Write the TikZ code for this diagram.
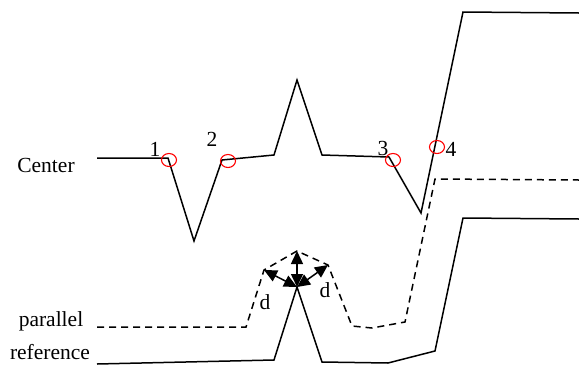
\documentclass[tikz,border=0pt]{standalone}
\usepackage{fontspec}
\setmainfont{Liberation Serif}
\usetikzlibrary{arrows.meta,shapes.geometric}
\begin{document}
\begin{tikzpicture}[x=1pt,y=-1pt,
  solidline/.style={line width=1.5pt,line join=miter},
  dashline/.style={line width=1.5pt,dash pattern=on 7pt off 5pt},
  redmark/.style={draw=red,line width=1.1pt,ellipse,minimum width=15pt,minimum height=13pt,inner sep=0pt},
  lbl/.style={font=\fontsize{21.5}{22}\selectfont,inner sep=0pt},
  dvec/.style={line width=1.5pt,{Triangle[length=13pt,width=12pt]}-{Triangle[length=13pt,width=12pt]}}]
\useasboundingbox (0,0) rectangle (579,365);
% center line
\coordinate (c0) at (97,158);
\coordinate (c1) at (168,158);
\coordinate (c2) at (194,241);
\coordinate (c3) at (222,160);
\coordinate (c4) at (274,155);
\coordinate (c5) at (297,80);
\coordinate (c6) at (322,155);
\coordinate (c7) at (389,157);
\coordinate (c8) at (421,213);
\coordinate (c9) at (463,12);
\coordinate (c10) at (579,13);
\draw[solidline] (c0)--(c1)--(c2)--(c3)--(c4)--(c5)--(c6)--(c7)--(c8)--(c9)--(c10);
% parallel (dashed)
\coordinate (p0) at (97,327);
\coordinate (p1) at (246,327);
\coordinate (p2) at (264,270);
\coordinate (p3) at (297,251);
\coordinate (p4) at (328,265);
\coordinate (p5) at (352,326);
\coordinate (p6) at (372,328);
\coordinate (p7) at (405,322);
\coordinate (p8) at (435,179);
\coordinate (p9) at (579,180);
\draw[dashline] (p0)--(p1)--(p2)--(p3)--(p4)--(p5)--(p6)--(p7)--(p8)--(p9);
% reference
\coordinate (r0) at (97,364);
\coordinate (r1) at (274,360);
\coordinate (r2) at (297,287);
\coordinate (r3) at (322,362);
\coordinate (r4) at (388,363);
\coordinate (r5) at (435,351);
\coordinate (r6) at (463,218);
\coordinate (r7) at (579,219);
\draw[solidline] (r0)--(r1)--(r2)--(r3)--(r4)--(r5)--(r6)--(r7);
% offset vectors
\draw[dvec] (r2)--(p2);
\draw[dvec] (r2)--(p3);
\draw[dvec] (r2)--(p4);
% red marks
\node[redmark] (m1) at (169,160) {};
\node[redmark] (m2) at (228,161) {};
\node[redmark] (m3) at (393,160) {};
\node[redmark] (m4) at (437,147) {};
% labels
\node[lbl] (n1) at (155,149) {1};
\node[lbl] (n2) at (212,139) {2};
\node[lbl] (n3) at (383,148) {3};
\node[lbl] (n4) at (451,149) {4};
\node[lbl] (tc) at (46,165) {Center};
\node[lbl] (tp) at (51,321) {parallel};
\node[lbl] (tr) at (50,352) {reference};
\node[lbl] (d1) at (265,302) {d};
\node[lbl] (d2) at (325,290) {d};
\end{tikzpicture}
\end{document}
